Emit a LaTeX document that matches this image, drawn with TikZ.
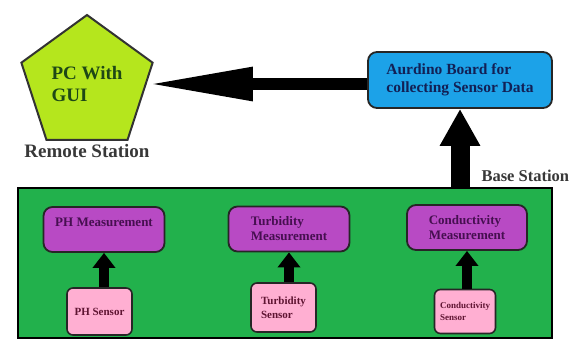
\documentclass[tikz,border=0pt]{standalone}
\usepackage{fontspec}
\setmainfont{Liberation Serif}
\usetikzlibrary{arrows.meta,positioning,shapes.geometric}
\definecolor{pcfill}{RGB}{181,230,29}
\definecolor{pctext}{RGB}{30,72,22}
\definecolor{boardfill}{RGB}{28,162,232}
\definecolor{boardtext}{RGB}{18,32,85}
\definecolor{basefill}{RGB}{34,177,76}
\definecolor{measfill}{RGB}{184,74,196}
\definecolor{meastext}{RGB}{70,15,80}
\definecolor{sensfill}{RGB}{255,175,210}
\definecolor{senstext}{RGB}{95,20,50}
\tikzset{lbl/.style={font=\bfseries\fontsize{19}{21}\selectfont,text=black!78},
  meas/.style={draw=black!85,line width=1.8pt,rounded corners=9pt,fill=measfill,minimum width=121pt,
    minimum height=45pt,align=left,font=\bfseries\fontsize{13}{15}\selectfont,text=meastext},
  sens/.style={draw=black!85,line width=1.6pt,rounded corners=6pt,fill=sensfill,minimum width=65pt,
    minimum height=47pt,align=left,font=\bfseries\fontsize{11}{14}\selectfont,text=senstext},
  smallarr/.style={line width=10pt,-{Triangle[length=15pt,width=22pt]}},
  bigarr/.style={line width=12pt,-{Triangle[length=106pt,width=31pt]}},
  uparr/.style={line width=19pt,-{Triangle[length=37pt,width=38pt]}}}

\begin{document}
\begin{tikzpicture}[x=1pt,y=-1pt]
\useasboundingbox (0,0) rectangle (577,341);
\node[regular polygon,regular polygon sides=5,minimum size=138pt,draw=black!80,line width=2pt,fill=pcfill,
  align=left,text=pctext,font=\bfseries\fontsize{19}{22}\selectfont] (pc) at (87,84) {PC With\\GUI};
\node[lbl,below=0pt of pc] (remote) {Remote Station};
\node[draw=black!85,line width=1.8pt,rounded corners=9pt,fill=boardfill,minimum width=184pt,minimum height=56pt,
  align=left,text=boardtext,font=\bfseries\fontsize{15.5}{18}\selectfont] (aurdino) at (460,80)
  {Aurdino Board for\\collecting Sensor Data};
\node[draw=black,line width=1.6pt,fill=basefill,minimum width=534pt,minimum height=150pt] (base) at (285,263) {};
\node[lbl,font=\bfseries\fontsize{16.5}{18}\selectfont,anchor=south west] (baselbl) at (478,185) {Base Station};
\node[meas] (phm) at (104,229.5) {PH Measurement\\\mbox{}};
\node[meas] (turbm) at (289,229) {Turbidity\\Measurement};
\node[meas,minimum width=120pt] (condm) at (467,227.5) {Conductivity\\Measurement};
\node[sens] (phs) at (99.5,311.5) {PH Sensor};
\node[sens,minimum height=49pt] (turbs) at (283.5,307.5) {Turbidity\\Sensor};
\node[sens,font=\bfseries\fontsize{9}{12}\selectfont,minimum width=61pt,minimum height=44pt] (conds) at (465,311.5)
  {Conductivity\\Sensor};
\foreach \s/\m in {phs/phm,turbs/turbm,conds/condm}
  \draw[smallarr] (\s.north -| \m.south) -- (\m.south);
\draw[uparr] (aurdino.south |- base.north) -- (aurdino.south);
\draw[bigarr] (aurdino.west |- pc.east) -- (pc.east);
\end{tikzpicture}
\end{document}
